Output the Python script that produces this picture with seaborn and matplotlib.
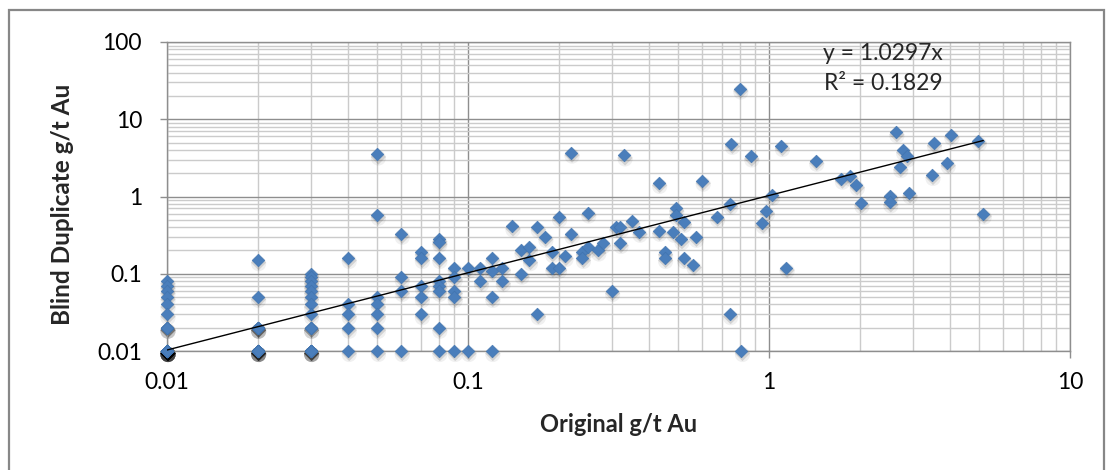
import numpy as np
import pandas as pd
import matplotlib
matplotlib.use("Agg")
import matplotlib.pyplot as plt
from matplotlib.transforms import offset_copy
from matplotlib.patches import Rectangle
import seaborn as sns

# ---- data (Original vs Blind Duplicate, g/t Au) ----
orig_low = ([0.01] * 8 + [0.01] * 3 + [0.01] * 20
            + [0.02] * 2 + [0.02] * 5 + [0.02] * 10
            + [0.03] * 8 + [0.03] * 3 + [0.03] * 7
            + [0.04] * 5 + [0.05] * 7 + [0.06] * 4 + [0.07] * 5
            + [0.08] * 8 + [0.09] * 5 + [0.1] * 2)
dup_low = ([0.08, 0.07, 0.06, 0.05, 0.04, 0.03, 0.02, 0.01] + [0.02] * 3 + [0.01] * 20
           + [0.15, 0.05] + [0.02] * 5 + [0.01] * 10
           + [0.1, 0.09, 0.08, 0.07, 0.06, 0.05, 0.04, 0.03] + [0.02] * 3 + [0.01] * 7
           + [0.16, 0.04, 0.03, 0.02, 0.01]
           + [3.5, 0.58, 0.05, 0.04, 0.03, 0.02, 0.01]
           + [0.33, 0.09, 0.06, 0.01]
           + [0.19, 0.16, 0.07, 0.05, 0.03]
           + [0.28, 0.26, 0.16, 0.08, 0.07, 0.06, 0.02, 0.01]
           + [0.12, 0.09, 0.06, 0.05, 0.01]
           + [0.12, 0.01])

orig_mid = [0.11, 0.11, 0.12, 0.12, 0.12, 0.12, 0.13, 0.13, 0.14, 0.15, 0.15,
            0.16, 0.16, 0.17, 0.17, 0.18, 0.19, 0.19, 0.2, 0.2, 0.21, 0.22, 0.22,
            0.24, 0.24, 0.25, 0.25, 0.27, 0.28, 0.3, 0.31, 0.32, 0.32, 0.33,
            0.35, 0.37, 0.43, 0.43, 0.45, 0.45, 0.48, 0.49, 0.49, 0.51, 0.52,
            0.52, 0.56, 0.57, 0.6, 0.67, 0.74, 0.74, 0.75, 0.8, 0.81, 0.87, 0.95]
dup_mid = [0.12, 0.08, 0.16, 0.11, 0.05, 0.01, 0.12, 0.08, 0.41, 0.2, 0.1,
           0.22, 0.15, 0.4, 0.03, 0.3, 0.19, 0.12, 0.55, 0.12, 0.17, 3.7, 0.33,
           0.19, 0.16, 0.62, 0.22, 0.2, 0.25, 0.06, 0.4, 0.4, 0.25, 3.4,
           0.48, 0.35, 1.5, 0.36, 0.19, 0.16, 0.35, 0.7, 0.58, 0.28, 0.47,
           0.16, 0.13, 0.3, 1.6, 0.55, 0.8, 0.03, 4.8, 25, 0.01, 3.3, 0.45]

orig_high = [0.98, 1.02, 1.1, 1.14, 1.43, 1.74, 1.86, 1.95, 2.02, 2.52, 2.52,
             2.64, 2.72, 2.78, 2.87, 2.92, 3.48, 3.52, 3.91, 4.02, 4.96, 5.15]
dup_high = [0.65, 1.05, 4.5, 0.12, 2.9, 1.7, 1.85, 1.4, 0.82, 1.02, 0.84,
            6.8, 2.4, 4.0, 3.3, 1.1, 1.9, 4.9, 2.7, 6.3, 5.3, 0.6]

slope = 1.0297
eq_text = "y = 1.0297x"
r2_text = "R² = 0.1829"
x_ticks = [0.01, 0.1, 1, 10]
x_tick_labels = ["0.01", "0.1", "1", "10"]
y_ticks = [0.01, 0.1, 1, 10, 100]
y_tick_labels = ["0.01", "0.1", "1", "10", "100"]
x_label = "Original g/t Au"
y_label = "Blind Duplicate g/t Au"

df = pd.DataFrame({"orig": orig_low + orig_mid + orig_high,
                   "dup": dup_low + dup_mid + dup_high})
trend = pd.DataFrame({"orig": [df["orig"].min(), df["orig"].max()]})
trend["dup"] = slope * trend["orig"]

# ---- styling ----
sns.set_style("white")
plt.rcParams["font.family"] = ["Lato", "DejaVu Sans"]

W, H = 1109, 470
fig = plt.figure(figsize=(W / 100, H / 100), dpi=100)
ax = fig.add_axes([167 / W, 1 - 351 / H, (1070 - 167) / W, (351 - 42) / H])

major_c = "#8e8e8e"
minor_c = "#cbcbcb"

ax.set_xscale("log")
ax.set_yscale("log")
ax.set_xlim(0.01, 10)
ax.set_ylim(0.01, 100)

ax.grid(which="minor", color=minor_c, lw=1.0, zorder=0)
ax.grid(which="major", color=major_c, lw=1.0, zorder=0)
ax.set_axisbelow(True)

# soft (blurred-looking) shadow layers under the markers
shadow_outer = offset_copy(ax.transData, fig=fig, x=1.0, y=-3.5, units="dots")
shadow_inner = offset_copy(ax.transData, fig=fig, x=1.0, y=-2.5, units="dots")
sns.scatterplot(data=df, x="orig", y="dup", ax=ax, marker="o", s=120,
                color="black", alpha=0.06, edgecolor="none", linewidth=0,
                transform=shadow_outer, clip_on=False, zorder=2, legend=False)
sns.scatterplot(data=df, x="orig", y="dup", ax=ax, marker="D", s=60,
                color="black", alpha=0.12, edgecolor="none", linewidth=0,
                transform=shadow_inner, clip_on=False, zorder=2, legend=False)
sns.scatterplot(data=df, x="orig", y="dup", ax=ax, marker="D", s=42,
                color="#4a7ebb", edgecolor="#3f72ad", linewidth=0.4,
                clip_on=False, zorder=3, legend=False)
sns.lineplot(data=trend, x="orig", y="dup", ax=ax, color="black", lw=1.0,
             zorder=4, legend=False)

ax.set_xticks(x_ticks)
ax.set_xticklabels(x_tick_labels)
ax.set_yticks(y_ticks)
ax.set_yticklabels(y_tick_labels)
ax.tick_params(which="major", axis="both", length=5, width=1, color=major_c,
               labelsize=16.5, labelcolor="black", direction="out")
ax.tick_params(which="major", axis="x", pad=10, bottom=True)
ax.tick_params(which="major", axis="y", pad=13, left=True)
ax.tick_params(which="minor", length=0)
ax.set_xlabel("")
ax.set_ylabel("")

for side in ["left", "bottom", "top", "right"]:
    ax.spines[side].set_color(major_c)
    ax.spines[side].set_linewidth(1.0)

fig.text(619 / W, 1 - 425 / H, x_label, ha="center", va="center",
         fontsize=17, fontweight="bold")
fig.text(62 / W, 1 - 204 / H, y_label, ha="center", va="center",
         rotation=90, fontsize=17.5, fontweight="bold")

fig.text(883 / W, 1 - 54 / H, eq_text, ha="center", va="center", fontsize=16.5)
fig.text(883 / W, 1 - 83 / H, r2_text, ha="center", va="center", fontsize=16.5)

# outer chart-area border
fig.patches.append(Rectangle((9 / W, -0.1), (1104 - 9) / W, 1.1 - 10 / H,
                             transform=fig.transFigure, fill=False,
                             edgecolor="#878787", lw=1.6))

fig.savefig("out.png", dpi=100, facecolor="white")
